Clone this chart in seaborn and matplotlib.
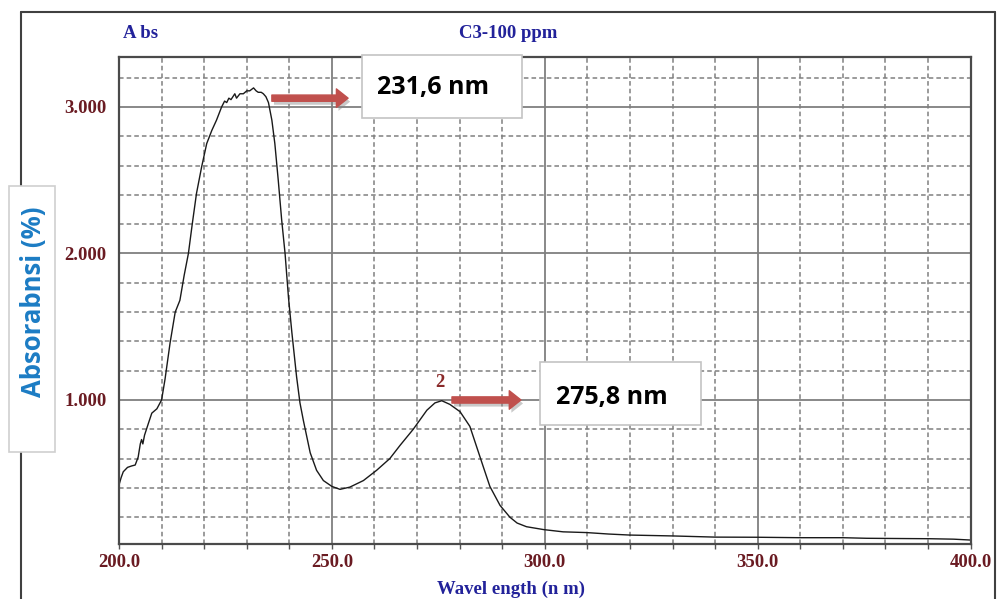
import matplotlib
matplotlib.use("Agg")
import matplotlib.pyplot as plt
import matplotlib.patches as mpatches
import matplotlib.lines as mlines
import matplotlib.patheffects as pe
from matplotlib.ticker import MultipleLocator, FormatStrFormatter
import seaborn as sns
import pandas as pd

# ---------------- data ----------------
wavelength = [200.0, 200.5, 201.0, 202.0, 203.0, 203.8, 204.5, 205.0, 205.3, 205.6,
              206.0, 206.9, 207.7, 208.9, 210.0, 210.8, 212.0, 213.2, 214.3, 215.3,
              216.3, 217.2, 218.2, 219.4, 220.6, 221.8, 222.9, 224.1, 224.8, 225.3,
              225.8, 226.3, 227.2, 227.6, 228.4, 229.2, 230.0, 230.7, 231.6, 232.2,
              232.7, 233.4, 233.9, 234.5, 235.1, 235.9, 236.6, 237.4, 238.2, 239.0,
              239.8, 240.6, 241.7, 242.5, 243.3, 244.1, 244.9, 246.4, 248.0, 250.0,
              251.9, 254.2, 257.4, 260.5, 263.6, 266.0, 269.1, 272.3, 274.2, 275.8,
              277.7, 280.1, 282.4, 284.0, 285.6, 287.1, 289.5, 291.8, 293.5, 295.7,
              299.8, 304.3, 309.8, 315.0, 320.0, 330.0, 340.0, 350.0, 360.0, 370.0,
              375.6, 385.0, 390.5, 396.0, 400.0]
absorbance = [0.42, 0.47, 0.51, 0.54, 0.55, 0.556, 0.61, 0.70, 0.73, 0.70,
              0.76, 0.84, 0.91, 0.94, 1.00, 1.14, 1.39, 1.60, 1.68, 1.85,
              2.00, 2.20, 2.41, 2.59, 2.75, 2.84, 2.91, 3.00, 3.04, 3.03,
              3.06, 3.05, 3.09, 3.06, 3.09, 3.09, 3.11, 3.11, 3.13, 3.11,
              3.10, 3.10, 3.09, 3.07, 3.03, 2.91, 2.75, 2.50, 2.23, 2.00,
              1.70, 1.46, 1.16, 0.98, 0.86, 0.75, 0.64, 0.52, 0.45, 0.41,
              0.39, 0.405, 0.45, 0.52, 0.60, 0.69, 0.80, 0.93, 0.98, 0.995,
              0.97, 0.92, 0.82, 0.68, 0.54, 0.41, 0.28, 0.20, 0.16, 0.135,
              0.115, 0.10, 0.095, 0.085, 0.078, 0.072, 0.064, 0.063, 0.060, 0.060,
              0.056, 0.054, 0.053, 0.050, 0.044]

x_ticks = [200, 250, 300, 350, 400]
y_ticks = [1.0, 2.0, 3.0]

peak_labels = ["231,6 nm", "275,8 nm"]
peak_number = "2"

title_left = "A bs"
title_center = "C3-100 ppm"
x_label = "Wavel ength (n m)"
y_label = "Absorabnsi (%)"

# ---------------- styling ----------------
sns.set_theme(style="white")
plt.rcParams["font.family"] = ["DejaVu Sans"]

TICK_RED = "#6a1b22"
NAVY = "#22229a"
LABEL_BLUE = "#1c7cc4"
ARROW_RED = "#c0504d"
SERIF = ["Liberation Serif", "DejaVu Serif"]
SANS = ["Open Sans", "DejaVu Sans"]

fig = plt.figure(figsize=(9.97, 5.99), dpi=100)
fig.patch.set_facecolor("white")

# outer frame (left, top, right edges)
fx0, fx1, fy1 = 21 / 997, 995 / 997, 1 - 12 / 599
for xs, ys in [([fx0, fx0], [0, fy1]), ([fx0, fx1], [fy1, fy1]), ([fx1, fx1], [0, fy1])]:
    fig.add_artist(mlines.Line2D(xs, ys, transform=fig.transFigure, color="#404040", lw=1.5, zorder=0))

ax = fig.add_axes([119 / 997, 55 / 599, 851.6 / 997, 487.3 / 599])
ax.set_facecolor("white")

df = pd.DataFrame({"wavelength": wavelength, "absorbance": absorbance})
sns.lineplot(data=df, x="wavelength", y="absorbance", ax=ax, color="#1a1a1a", lw=1.0, zorder=2)

ax.set_xlim(200, 400)
ax.set_ylim(0.017, 3.343)

ax.xaxis.set_major_locator(MultipleLocator(50))
ax.xaxis.set_minor_locator(MultipleLocator(10))
ax.yaxis.set_major_locator(MultipleLocator(1.0))
ax.yaxis.set_minor_locator(MultipleLocator(0.2))
ax.xaxis.set_major_formatter(FormatStrFormatter("%.1f"))
ax.yaxis.set_major_formatter(FormatStrFormatter("%.3f"))
ax.set_xticks(x_ticks)
ax.set_yticks(y_ticks)

ax.set_axisbelow(True)
ax.grid(which="major", color="#7f7f7f", lw=1.3, ls="-")
ax.grid(which="minor", color="#808080", lw=1.1, ls=(0, (3, 2)))

for s in ax.spines.values():
    s.set_color("#4a4a4a")
    s.set_linewidth(1.6)

ax.tick_params(axis="x", which="both", direction="out", length=3.5, width=1.0,
               color="#555555", bottom=True, pad=4)
ax.tick_params(axis="x", which="major", labelsize=13.5, labelcolor=TICK_RED)
ax.tick_params(axis="y", which="both", length=0, pad=9, labelsize=13.5, labelcolor=TICK_RED)
for lab in ax.get_xticklabels() + ax.get_yticklabels():
    lab.set_fontfamily(SERIF)
    lab.set_fontweight("bold")

ax.set_xlabel("")
ax.set_ylabel("")

# header texts
fig.text(141 / 997, 1 - 33 / 599, title_left, ha="center", va="center", color=NAVY,
         fontsize=13.5, fontweight="bold", family=SERIF)
fig.text(508 / 997, 1 - 33 / 599, title_center, ha="center", va="center", color=NAVY,
         fontsize=13.5, fontweight="bold", family=SERIF)
fig.text(511 / 997, 1 - 589 / 599, x_label, ha="center", va="center", color=NAVY,
         fontsize=13.5, fontweight="bold", family=SERIF)

# y label in its own white box
fig.add_artist(mpatches.Rectangle((9 / 997, (599 - 452) / 599), 46 / 997, 266 / 599,
                                  transform=fig.transFigure, facecolor="white",
                                  edgecolor="#cfcfcf", lw=1.2, zorder=3))
fig.text(33 / 997, (599 - 302) / 599, y_label, rotation=90, ha="center", va="center",
         color=LABEL_BLUE, fontsize=18.5, fontweight="bold", family=SANS, zorder=4)

# peak annotation boxes
boxes = [((257.1, 2.925), 37.5, 0.43, (273.7, 3.13)),
         ((298.9, 0.83), 37.8, 0.43, (315.8, 1.02))]
for (xy, w, h, txy), lab in zip(boxes, peak_labels):
    ax.add_patch(mpatches.Rectangle(xy, w, h, facecolor="white", edgecolor="#c4c4c4",
                                    lw=1.2, zorder=3, clip_on=False))
    ax.text(txy[0], txy[1], lab, ha="center", va="center", fontsize=18,
            fontweight="bold", family=SANS, color="black", zorder=4)

# arrows
arrows = [((235.9, 3.06), (253.8, 3.06)), ((278.2, 1.0), (294.4, 1.0))]
for tail, head in arrows:
    ann = ax.annotate("", xy=head, xytext=tail, zorder=3,
                      arrowprops=dict(arrowstyle="simple,head_length=0.6,head_width=0.95,tail_width=0.32",
                                      color=ARROW_RED, mutation_scale=14, shrinkA=0, shrinkB=0))
    ann.arrow_patch.set_path_effects([pe.SimplePatchShadow(offset=(1.5, -2.5), shadow_rgbFace="#888888", alpha=0.45),
                                      pe.Normal()])

ax.text(275.4, 1.116, peak_number, ha="center", va="center", color="#8a2a2a",
        fontsize=13.5, fontweight="bold", family=SERIF, zorder=4)

fig.savefig("out.png", dpi=100)
